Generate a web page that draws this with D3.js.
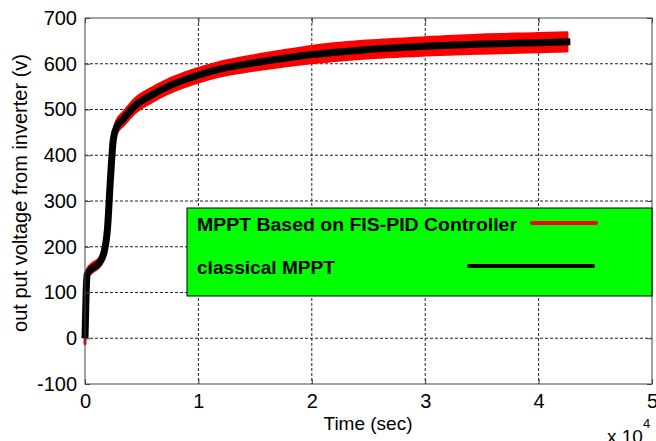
<!DOCTYPE html>
<html>
<head>
<meta charset="utf-8">
<script src="https://cdn.jsdelivr.net/npm/d3@7"></script>
<style>
    body { margin: 0; background: #fff; }
    svg text { font-family: Arial, "Liberation Sans", sans-serif; fill: #000; }
</style>
</head>
<body>
<div id="graph"></div>
<script>
// time in units of 1e4 sec
var timeVals    = [ 0, 0.01, 0.02, 0.06, 0.13, 0.17, 0.20, 0.22, 0.25, 0.28, 0.34, 0.44, 0.59, 0.73, 0.88,
                    1.00, 1.17, 1.47, 1.76, 2.00, 2.45, 3.00, 3.50, 4.00, 4.28 ];

// classical MPPT (black)
var classicVals = [ 0, 100, 140, 152, 166, 190, 245, 330, 435, 462, 480, 508, 532, 550, 565,
                    575, 587, 601, 612, 620, 630, 638, 643, 646, 648 ];

// MPPT based on FIS-PID controller (red, noisy band)
var fisHigh     = [ 2, 105, 150, 162, 176, 200, 252, 338, 445, 476, 494, 523, 547, 565, 580,
                    590, 602, 617, 629, 638, 649, 657, 663, 666, 668 ];
var fisLow      = [ -12, 95, 132, 144, 158, 180, 238, 322, 425, 450, 466, 493, 517, 535, 550,
                    560, 572, 585, 595, 602, 612, 619, 623, 626, 628 ];

var xTicks = [ 0, 1, 2, 3, 4, 5 ];
var yTicks = [ -100, 0, 100, 200, 300, 400, 500, 600, 700 ];

var legendLabels  = [ 'MPPT Based on FIS-PID Controller', 'classical MPPT' ];
var legendColours = [ '#ff0000', '#000000' ];

var margin = { top: 18, right: 4, bottom: 57, left: 85 };
var width  = 656 - margin.left - margin.right;
var height = 441 - margin.top  - margin.bottom;

var svg = d3.select('#graph')
            .append('svg')
            .attr('width', 656)
            .attr('height', 441);

var g = svg.append('g')
           .attr('transform', 'translate(' + margin.left + ',' + margin.top + ')');

var xScale = d3.scaleLinear().domain([0, 5]).range([0, width]);
var yScale = d3.scaleLinear().domain([-100, 700]).range([height, 0]);

// grid lines (dotted, MATLAB style)
g.selectAll('.vgrid')
 .data(xTicks.slice(1, -1))
 .enter().append('line')
 .attr('x1', d => xScale(d)).attr('x2', d => xScale(d))
 .attr('y1', 0).attr('y2', height)
 .attr('stroke', '#222').attr('stroke-width', 1)
 .attr('stroke-dasharray', '3,2');

g.selectAll('.hgrid')
 .data(yTicks.slice(1, -1))
 .enter().append('line')
 .attr('x1', 0).attr('x2', width)
 .attr('y1', d => yScale(d)).attr('y2', d => yScale(d))
 .attr('stroke', '#222').attr('stroke-width', 1)
 .attr('stroke-dasharray', '3,2');

// red band
var points = timeVals.map((t, i) => ({ x: t, hi: fisHigh[i], lo: fisLow[i], c: classicVals[i] }));

var band = d3.area()
             .x(d => xScale(d.x))
             .y0(d => yScale(d.lo))
             .y1(d => yScale(d.hi))
             .curve(d3.curveMonotoneX);

g.append('path')
 .datum(points.slice(0, -1).concat([{ x: 4.25, hi: 668, lo: 628 }]))
 .attr('d', band)
 .attr('fill', '#ff0000')
 .attr('stroke', '#ff0000')
 .attr('stroke-width', 3)
 .attr('stroke-linejoin', 'round');

// black line
var line = d3.line()
             .x(d => xScale(d.x))
             .y(d => yScale(d.c))
             .curve(d3.curveMonotoneX);

g.append('path')
 .datum(points)
 .attr('d', line)
 .attr('fill', 'none')
 .attr('stroke', '#000')
 .attr('stroke-width', 7)
 .attr('stroke-linejoin', 'round');

// axes box and inward ticks
var axisColour = '#444';
var tickLen = 5;

g.append('rect')
 .attr('x', 0).attr('y', 0)
 .attr('width', width).attr('height', height)
 .attr('fill', 'none')
 .attr('stroke', axisColour)
 .attr('stroke-width', 1);

var xAxis = d3.axisBottom(xScale).tickValues(xTicks).tickSize(-tickLen).tickPadding(10).tickFormat(d => String(d));
var yAxis = d3.axisLeft(yScale).tickValues(yTicks).tickSize(-tickLen).tickPadding(8).tickFormat(d => String(d));

g.append('g').attr('transform', 'translate(0,' + height + ')').call(xAxis);
g.append('g').call(yAxis);

g.append('g').call(d3.axisTop(xScale).tickValues(xTicks).tickSize(-tickLen).tickFormat(''));
g.append('g').attr('transform', 'translate(' + width + ',0)')
 .call(d3.axisRight(yScale).tickValues(yTicks).tickSize(-tickLen).tickFormat(''));

g.selectAll('.domain').remove();
g.selectAll('.tick line').attr('stroke', axisColour);
g.selectAll('.tick text').style('font-size', '20px').attr('fill', '#000');

// axis titles
svg.append('text')
   .attr('x', 368).attr('y', 430)
   .attr('text-anchor', 'middle')
   .style('font-size', '19px')
   .text('Time (sec)');

svg.append('text')
   .attr('transform', 'translate(27,193) rotate(-90)')
   .attr('text-anchor', 'middle')
   .style('font-size', '20px')
   .text('out put voltage from inverter (v)');

// x 10^4 multiplier
var mult = svg.append('text')
              .attr('x', 607).attr('y', 443)
              .style('font-size', '19px');
mult.append('tspan').text('x 10');
mult.append('tspan').attr('dy', -15).style('font-size', '13px').text('4');

// legend
var legend = g.append('g').attr('transform', 'translate(' + (187 - margin.left) + ',' + (208 - margin.top) + ')');

legend.append('rect')
      .attr('x', 0).attr('y', 0)
      .attr('width', width - (187 - margin.left)).attr('height', 88)
      .attr('fill', '#00ff00')
      .attr('stroke', '#000')
      .attr('stroke-width', 1);

var rowY  = [ 23, 66 ];
var textW = [ 320, 138 ];
var lineX = [ [ 345, 409 ], [ 282, 406 ] ];

legendLabels.forEach(function (label, i)
{
    legend.append('text')
          .attr('x', 10).attr('y', rowY[i])
          .attr('textLength', textW[i])
          .attr('lengthAdjust', 'spacingAndGlyphs')
          .style('font-size', '18px')
          .style('font-weight', 'bold')
          .text(label);

    legend.append('line')
          .attr('x1', lineX[i][0]).attr('x2', lineX[i][1])
          .attr('y1', rowY[i] - 8).attr('y2', rowY[i] - 8)
          .attr('stroke', legendColours[i])
          .attr('stroke-width', 4)
          .attr('stroke-linecap', 'round');
});
</script>
</body>
</html>
